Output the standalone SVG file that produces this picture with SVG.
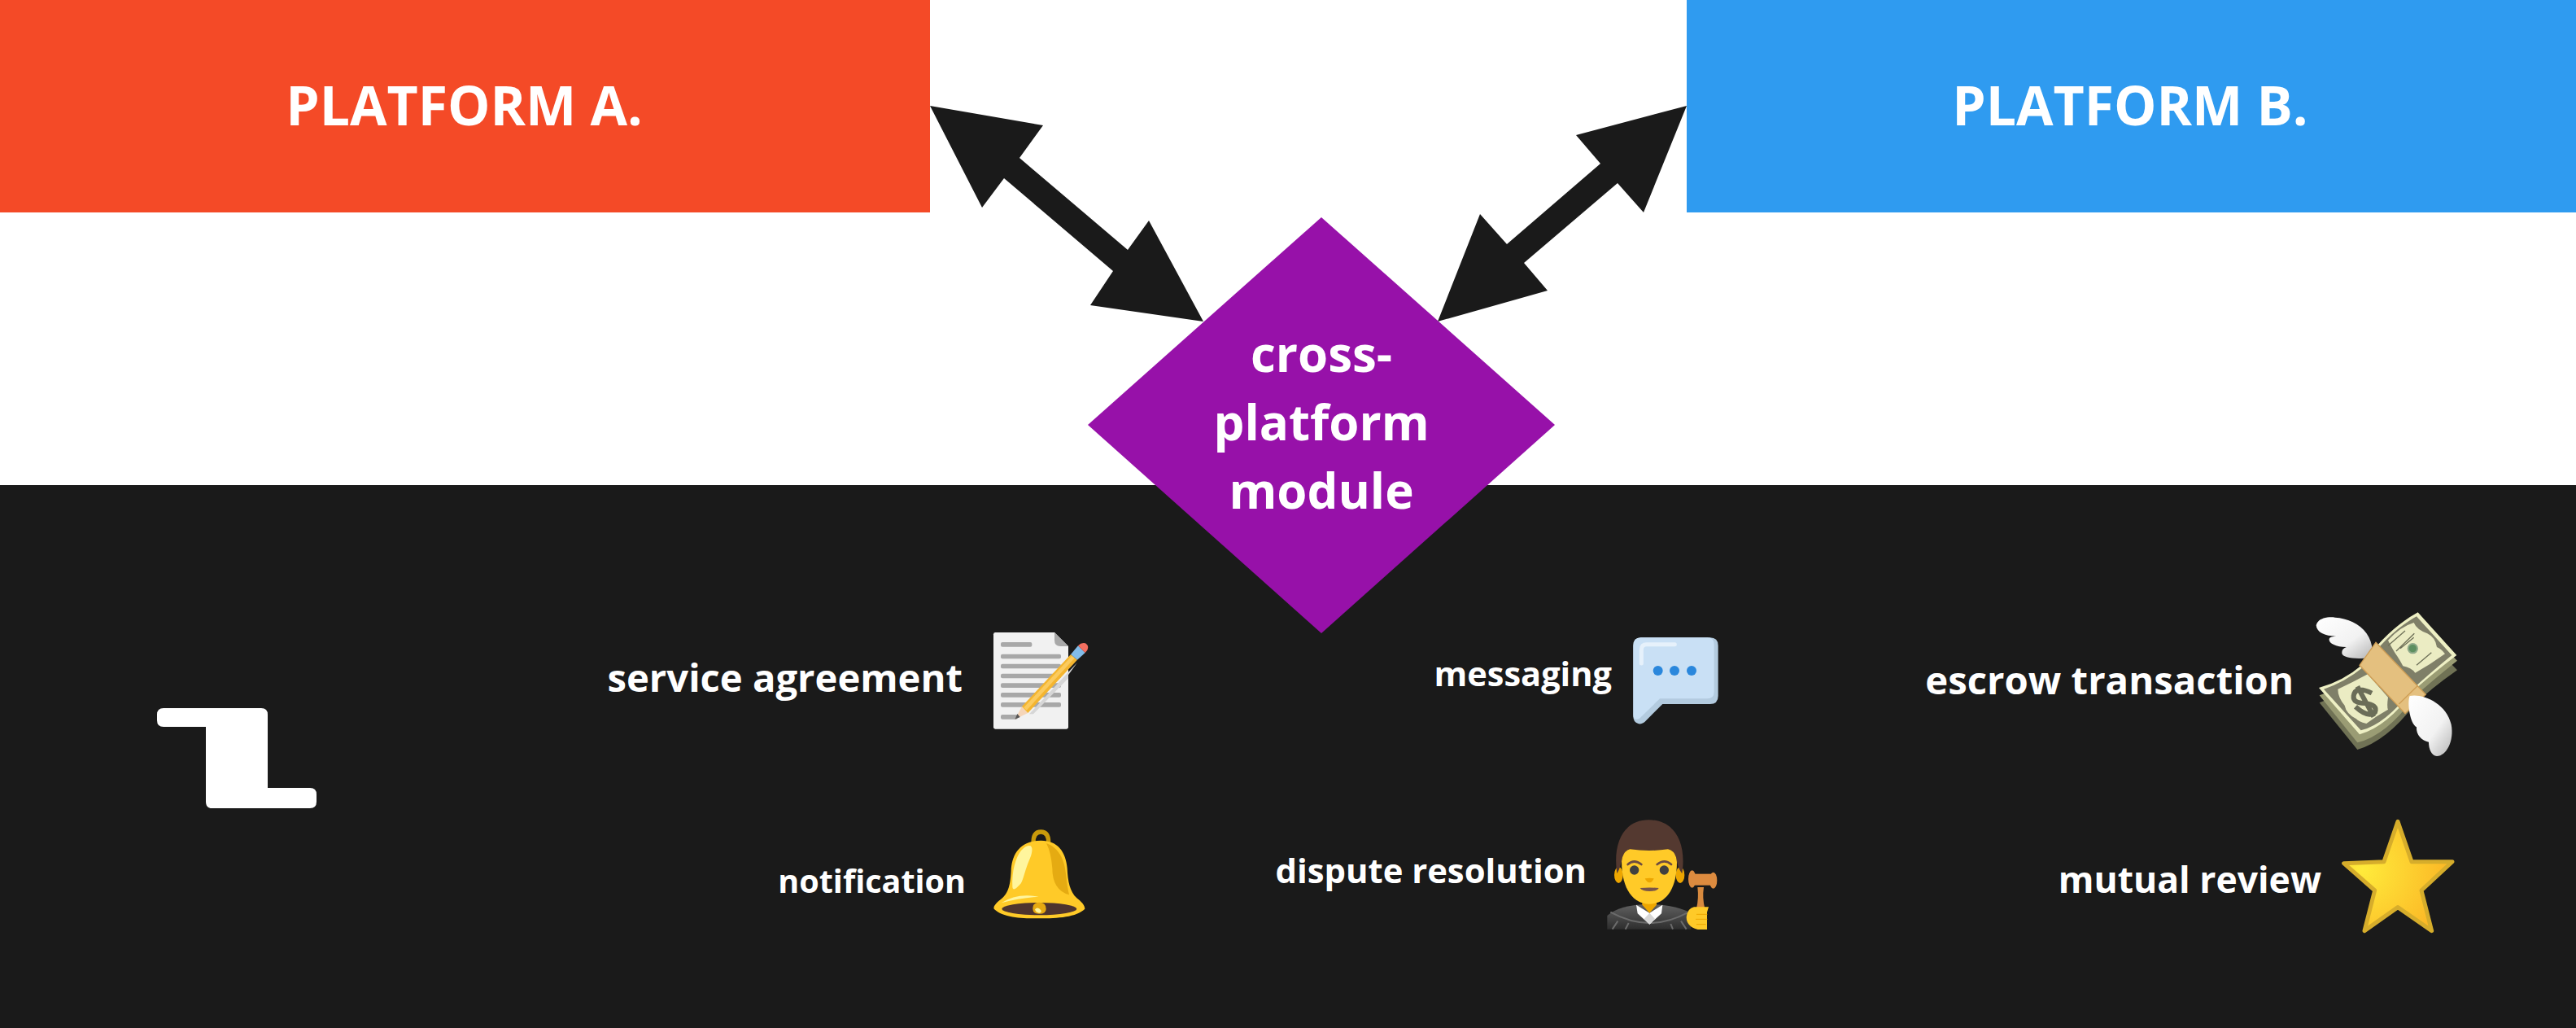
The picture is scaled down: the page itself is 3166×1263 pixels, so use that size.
<svg xmlns="http://www.w3.org/2000/svg" width="3166" height="1263" viewBox="0 0 3166 1263">
<style>
text{font-family:"Open Sans","Noto Sans",sans-serif;font-weight:700;fill:#fff}
.m{text-anchor:middle}.e{text-anchor:end}
.line{fill:#a8a8a8}
</style>
<defs>
<linearGradient id="wing" x1="0" y1="0" x2="1" y2="1"><stop offset="0" stop-color="#fff"/><stop offset=".6" stop-color="#f2f2f2"/><stop offset="1" stop-color="#b5b5b5"/></linearGradient>
<linearGradient id="robe" x1="0" y1="0" x2="0" y2="1"><stop offset="0" stop-color="#616161"/><stop offset="1" stop-color="#2e2e2e"/></linearGradient>
<radialGradient id="star" gradientUnits="userSpaceOnUse" cx="130" cy="235" r="330"><stop offset="0" stop-color="#ffeb3b"/><stop offset="1" stop-color="#fbb625"/></radialGradient>
</defs>
<rect width="3166" height="1263" fill="#fff"/>
<rect id="bar" y="596" width="3166" height="667" fill="#1a1a1a"/>
<g id="platform-a"><rect width="1143" height="261" fill="#f44a27"/><text x="570.5" y="153.5" class="m" font-size="66">PLATFORM A.</text></g>
<g id="platform-b"><rect x="2073" width="1093" height="261" fill="#2f9bf0"/><text x="2618" y="153.5" class="m" font-size="66">PLATFORM B.</text></g>
<g id="connectors" fill="#1a1a1a">
<polygon points="1143,130 1282,154 1253,194 1386,307 1412,271 1479,395 1340,375 1368,333 1234,219 1207,255"/>
<polygon points="2073,130 2020,261 1988,225 1873,323 1902,357 1767,395 1819,263 1852,300 1967,201 1937,166"/>
</g>
<g id="module"><polygon points="1624,267 1911,522 1624,778 1337,522" fill="#9711a9"/>
<text class="m" font-size="60" x="1624" y="457">cross-</text><text class="m" font-size="60" x="1624" y="541">platform</text><text class="m" font-size="60" x="1624" y="625">module</text></g>
<g id="logo"><path d="M201 870H321Q329 870 329 878V968H381Q389 968 389 976V985Q389 993 381 993H261Q253 993 253 985V893H201Q193 893 193 885V878Q193 870 201 870Z" fill="#fff"/></g>

<g id="service-agreement"><text class="e" x="1183" y="850" font-size="47.2">service agreement</text>
<g transform="translate(1170 740) scale(.33333)">
<path d="M160 111H378L429 162V460Q429 467 422 467H160Q153 467 153 460V118Q153 111 160 111Z" fill="#f1f1f1"/>
<path d="M378 111L429 162H400Q378 162 378 140Z" fill="#a8a8a8"/>
<rect class="line" x="180" y="147" width="115" height="17" rx="6"/>
<rect class="line" x="180" y="191" width="222" height="17" rx="6"/>
<rect class="line" x="180" y="227" width="222" height="17" rx="6"/>
<rect class="line" x="180" y="263" width="222" height="17" rx="6"/>
<rect class="line" x="180" y="298" width="222" height="17" rx="6"/>
<rect class="line" x="180" y="333" width="222" height="17" rx="6"/>
<rect class="line" x="180" y="369" width="222" height="17" rx="6"/>
<rect class="line" x="180" y="414" width="62" height="17" rx="6"/>
<polygon points="285,412 462,222 429,268 429,280 300,412" fill="#d6d6d6"/>
<polygon points="232,431 258,384 280,408" fill="#f5d5b8"/>
<polygon points="232,431 241,411 251,423" fill="#555"/>
<polygon points="258,384 438,192 462,212 280,408" fill="#f4b52f"/>
<polygon points="265,388 442,197 452,206 275,398" fill="#fbcb5f"/>
<polygon points="438,192 465,160 491,186 462,212" fill="#82bce8"/>
<path d="M465 160Q478 146 492 151Q507 160 499 176L491 186Z" fill="#f36f60"/>
</g></g>

<g id="messaging"><text class="e" x="1981" y="843" font-size="41.5">messaging</text>
<g transform="translate(1990 760) scale(.33333)">
<path d="M80 70H335Q365 70 365 100V285Q365 315 335 315H160L100 375Q85 392 70 387Q52 382 52 360V100Q52 70 80 70Z" fill="#b3cbdf"/>
<path d="M80 70H325Q350 70 350 95V270Q350 295 325 295H150L75 368Q52 378 52 355V100Q52 70 80 70Z" fill="#c9e0f5"/>
<path d="M82 165V115Q82 95 102 95H205" fill="none" stroke="#e6f1fb" stroke-width="15" stroke-linecap="round"/>
<circle cx="143" cy="192" r="18" fill="#2a87dc"/><circle cx="204" cy="192" r="18" fill="#2a87dc"/><circle cx="267" cy="192" r="18" fill="#2a87dc"/>
</g></g>

<g id="escrow-transaction"><text class="e" x="2819" y="853" font-size="47.3">escrow transaction</text>
<g transform="translate(2820 740) scale(.33333)">
<path d="M92 370Q180 340 250 280Q340 160 455 100L600 250Q500 320 440 380Q340 510 232 543Z" fill="#707255"/>
<path d="M92 343Q180 315 250 255Q340 130 455 70L600 215Q500 295 440 350Q340 490 232 517Z" fill="#9a9c74"/>
<path d="M90 315Q180 290 250 230Q340 100 455 37L598 195Q500 270 440 325Q340 460 240 487Z" fill="#eef0c4"/>
<path d="M108 320Q185 295 255 238Q345 110 450 52L580 195Q495 265 435 320Q335 450 245 472Z" fill="#7f7f68"/>
<path d="M160 320Q215 295 270 265L345 350Q340 385 345 395Q300 420 265 447Q235 440 228 430Q190 410 185 380Q160 350 160 320Z" fill="#ebecc3"/>
<path d="M345 140Q390 90 440 75Q450 100 490 115Q520 130 525 165Q540 170 555 190Q500 230 445 260Q430 240 400 235Q390 215 380 200Q365 180 345 140Z" fill="#ebecc3"/>
<circle cx="436" cy="170" r="17" fill="#5d8f60" stroke="#8ea98a" stroke-width="6"/>
<path d="M345 160L408 105M375 180L442 115M390 170L440 130M450 232L505 185" stroke="#6e7058" stroke-width="4" fill="none"/>
<path d="M285 335Q225 305 218 345Q215 372 260 372Q308 378 297 405Q272 428 225 385M232 310L292 422" fill="none" stroke="#6b6d58" stroke-width="18"/>
<path d="M80 85C85 60 120 52 150 56C215 60 275 100 285 160C288 180 285 195 280 205L245 207C205 208 172 200 175 185C175 175 182 168 192 165C150 165 125 150 128 135C130 128 140 125 155 125C110 125 82 110 80 85Z" fill="url(#wing)"/>
<path d="M300 148L484 340L408 410L240 232Z" fill="#e4c07f" stroke="#cf9e55" stroke-width="4"/>
<path d="M455 307L385 375" stroke="#cf9e55" stroke-width="4"/>
<path d="M425 345C470 335 560 370 578 450C590 510 560 567 525 567C505 565 495 540 495 515C470 510 448 490 450 460C425 445 415 370 425 345Z" fill="url(#wing)"/>
</g></g>

<g id="notification"><text class="e" x="1187" y="1097" font-size="39.5">notification</text>
<g transform="translate(1190 1000) scale(.33333)">
<path d="M240 105Q240 66 268 66Q296 66 296 105" fill="none" stroke="#c99a0b" stroke-width="16"/>
<path d="M268 98C190 98 160 150 158 210C155 270 145 295 120 315C100 330 92 342 95 350C130 385 210 385 262 385C330 385 400 380 430 350C430 335 415 322 400 310C375 285 367 250 365 200C360 140 330 98 268 98Z" fill="#ffca28"/>
<path d="M288 108C335 125 355 170 360 220Q365 270 372 298Q310 280 310 200Q305 140 288 108Z" fill="#e5ab12"/>
<path d="M230 118C240 125 235 150 225 170C210 205 205 235 195 255Q165 290 163 270C160 210 175 160 195 135Q215 112 230 118Z" fill="#fff59d"/>
<path d="M122 328Q180 290 260 305Q190 310 122 328Z" fill="#fff59d"/>
<ellipse cx="262" cy="350" rx="138" ry="23" fill="#4e342e"/>
<path d="M238 350Q238 326 262 326Q287 326 287 350Q287 368 262 368Q238 368 238 350Z" fill="#e6a911"/>
<path d="M246 352Q256 340 268 355Q272 365 262 365Q250 365 246 352Z" fill="#fff59d"/>
</g></g>

<g id="dispute-resolution"><text class="e" x="1950" y="1085" font-size="41.8">dispute resolution</text>
<g transform="translate(1950 990) scale(.33333)">
<path d="M76 455V405Q120 365 230 362Q330 365 385 395V455Z" fill="url(#robe)"/>
<path d="M88 392Q230 470 370 395M115 425L95 455M155 432L143 455M310 435L318 455M348 425L368 455" fill="none" stroke="#6b6b6b" stroke-width="6"/>
<path d="M183 365L232 395L280 365L276 397L232 437L188 397Z" fill="#fff"/>
<path d="M232 395L252 417L232 437L212 417Z" fill="#d6d6d6"/>
<path d="M205 340H258V365L232 395L205 365Z" fill="#eda600"/>
<ellipse cx="118" cy="255" rx="16" ry="30" fill="#eda600"/><ellipse cx="345" cy="255" rx="16" ry="30" fill="#eda600"/>
<path d="M130 180C122 300 170 362 230 362C295 362 340 300 332 180Q320 150 230 150Q140 150 130 180Z" fill="#ffca28"/>
<path d="M112 250C95 130 140 52 230 52C320 52 370 130 352 250Q335 230 330 190Q322 165 300 160Q230 170 160 160Q140 165 132 190Q125 230 112 250Z" fill="#543930"/>
<path d="M152 216Q175 195 202 216M260 216Q287 195 312 216" fill="none" stroke="#6d4c41" stroke-width="8" stroke-linecap="round"/>
<circle cx="176" cy="237" r="17" fill="#404040"/><circle cx="286" cy="237" r="17" fill="#404040"/>
<path d="M215 268Q232 264 248 268Q242 283 232 283Q222 283 215 268Z" fill="#eda600"/>
<path d="M197 303Q232 300 266 303Q260 315 232 315Q205 315 197 303Z" fill="#795548"/>
<path d="M405 378Q414 340 409 300H432Q426 340 436 378Z" fill="#d88a3e"/>
<rect x="388" y="251" width="82" height="42" fill="#dd8b3f"/>
<ellipse cx="389" cy="270" rx="14" ry="32" fill="#dd8b3f"/><ellipse cx="467" cy="275" rx="14" ry="30" fill="#dd8b3f"/>
<path d="M396 373H450L444 392V456H410Q368 445 368 410Q372 378 396 373Z" fill="#ffca28"/>
<path d="M405 400H445M402 418H445M405 437H440" fill="none" stroke="#eda600" stroke-width="3"/>
</g></g>

<g id="mutual-review"><text class="e" x="2853" y="1097" font-size="44.5">mutual review</text>
<g transform="translate(2860 990) scale(.33333)">
<path d="M261 58L312 206H462L348 312L386 461L261 374L138 461L176 312L62 212L210 206Z" fill="url(#star)" stroke="#d6ad2b" stroke-width="15" stroke-linejoin="round"/>
</g></g>
</svg>
